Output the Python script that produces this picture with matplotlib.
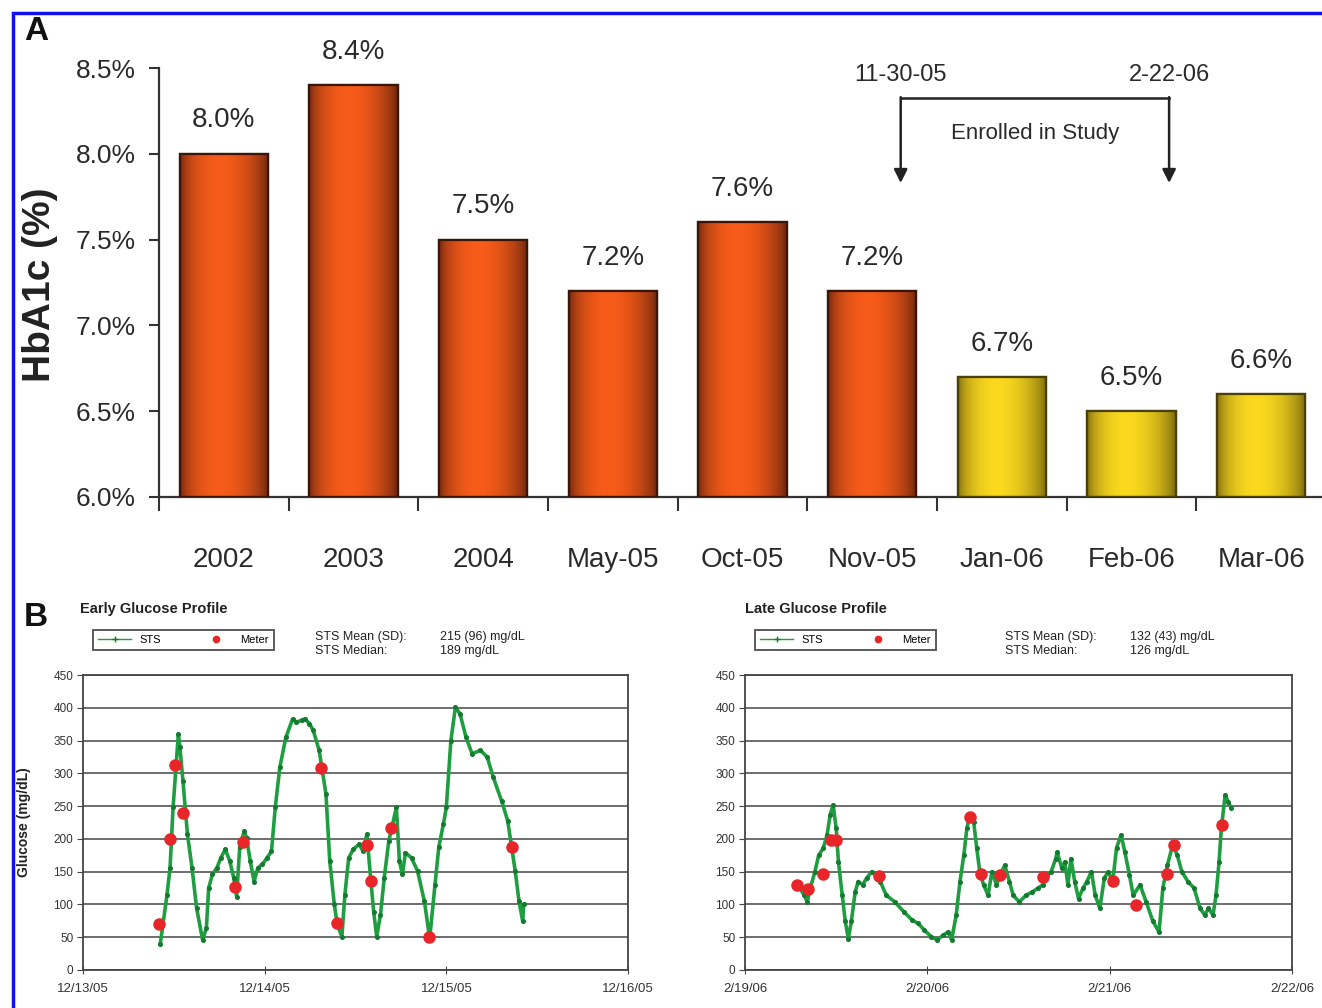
import numpy as np
import matplotlib
matplotlib.use("Agg")
import matplotlib.pyplot as plt
from matplotlib.patches import Rectangle
from matplotlib.lines import Line2D

plt.rcParams['font.family'] = ['Liberation Sans', 'DejaVu Sans']

# ---------------- Panel A data ----------------
periods = ['2002', '2003', '2004', 'May-05', 'Oct-05', 'Nov-05', 'Jan-06', 'Feb-06', 'Mar-06']
hba1c = [8.0, 8.4, 7.5, 7.2, 7.6, 7.2, 6.7, 6.5, 6.6]
in_study = [False, False, False, False, False, False, True, True, True]
a_yticks = [6.0, 6.5, 7.0, 7.5, 8.0, 8.5]
enroll_start_label = '11-30-05'
enroll_end_label = '2-22-06'

# ---------------- Panel B data ----------------
b_yticks = [0, 50, 100, 150, 200, 250, 300, 350, 400, 450]
early_dates = ['12/13/05', '12/14/05', '12/15/05', '12/16/05']
late_dates = ['2/19/06', '2/20/06', '2/21/06', '2/22/06']

early_sts_h = [10.2, 11.1, 11.5, 11.9, 12.6, 12.8, 13.2, 13.8, 14.4, 15.0, 15.8, 16.3,
               16.6, 17.1, 17.7, 18.2, 18.8, 19.4, 19.9, 20.3, 20.7, 21.3, 21.6, 22.1,
               22.6, 23.1, 23.7, 24.3, 24.9, 25.4, 26.0, 26.8, 27.7, 28.2, 28.9, 29.3,
               29.9, 30.4, 31.2, 32.1, 32.6, 33.2, 33.6, 34.2, 34.6, 35.1, 35.7, 36.5,
               37.0, 37.5, 38.0, 38.4, 38.8, 39.3, 39.8, 40.4, 41.4, 41.8, 42.2, 42.6,
               43.4, 44.2, 45.1, 45.8, 46.5, 47.0, 47.6, 48.0, 48.6, 49.2, 49.8, 50.6,
               51.4, 52.5, 53.4, 54.2, 55.3, 56.1, 57.1, 57.6, 58.1, 58.2]
early_sts_g = [39, 115, 156, 248, 360, 340, 289, 207, 156, 95, 46, 64,
               125, 146, 156, 171, 184, 166, 141, 112, 187, 212, 202, 166,
               135, 156, 161, 171, 181, 248, 309, 355, 383, 378, 381, 383,
               376, 366, 335, 268, 166, 100, 69, 51, 115, 171, 184, 192,
               181, 207, 140, 89, 51, 84, 141, 197, 248, 166, 146, 179,
               171, 151, 105, 48, 130, 187, 222, 248, 350, 401, 391, 355,
               330, 335, 325, 294, 258, 228, 151, 105, 74, 100]
early_meter_h = [10.1, 11.5, 12.1, 13.2, 20.1, 21.2, 31.5, 33.5, 37.5, 38.0, 40.7, 45.7, 56.7]
early_meter_g = [70, 200, 313, 240, 127, 195, 308, 72, 190, 136, 217, 50, 187]

late_sts_h = [6.7, 7.2, 7.8, 8.2, 8.6, 9.2, 9.7, 10.3, 10.8, 11.2, 11.6, 12.0, 12.3,
              12.8, 13.2, 13.6, 14.0, 14.5, 14.9, 15.5, 16.0, 16.7, 17.2, 17.8, 18.6,
              19.7, 20.9, 22.0, 22.8, 23.6, 24.5, 25.3, 26.1, 26.7, 27.2, 27.8, 28.3,
              28.8, 29.2, 29.6, 30.1, 30.5, 30.9, 31.4, 32.0, 32.5, 33.1, 33.6, 34.2,
              34.8, 35.3, 36.1, 37.0, 37.8, 38.6, 39.2, 39.8, 40.3, 40.9, 41.1, 41.7,
              42.1, 42.5, 42.9, 43.4, 43.9, 44.5, 45.0, 45.6, 46.1, 46.7, 47.3, 47.8,
              48.4, 48.9, 49.5, 50.0, 50.6, 51.1, 52.0, 52.8, 53.7, 54.5, 55.0, 55.6,
              56.3, 56.9, 57.5, 58.3, 59.1, 59.9, 60.5, 61.0, 61.6, 62.0, 62.4, 62.7,
              63.2, 63.6, 64.0]
late_sts_g = [130, 125, 114, 104, 125, 150, 175, 186, 206, 236, 252, 216, 165,
              114, 74, 48, 74, 119, 135, 130, 140, 150, 145, 135, 114,
              104, 89, 76, 71, 61, 51, 46, 53, 58, 46, 84, 135,
              175, 216, 236, 226, 186, 150, 130, 114, 150, 130, 145, 160,
              135, 114, 104, 114, 119, 125, 130, 145, 150, 170, 180, 155,
              165, 130, 170, 135, 109, 125, 135, 150, 114, 94, 140, 150,
              135, 186, 206, 180, 145, 114, 130, 104, 74, 58, 125, 160,
              191, 175, 150, 135, 125, 94, 84, 94, 84, 114, 165, 216,
              267, 257, 247]
late_meter_h = [6.9, 8.3, 10.3, 11.3, 12.0, 17.6, 29.6, 31.1, 33.6, 39.2, 48.5, 51.5, 55.6, 56.5, 62.8]
late_meter_g = [130, 124, 147, 198, 198, 143, 234, 147, 145, 142, 136, 99, 146, 191, 221]

early_stats = ['215 (96) mg/dL', '189 mg/dL']
late_stats = ['132 (43) mg/dL', '126 mg/dL']

# ---------------- Figure ----------------
W, H = 1322, 1008
fig = plt.figure(figsize=(W / 100, H / 100), dpi=100)
fig.patch.set_facecolor('white')

def fx(px):
    return px / W

def fy(py):
    return 1 - py / H

TXT = '#2a2a2a'

# blue frame
fig.patches.append(Rectangle((fx(13), fy(1010)), 1.2, fy(13) - fy(1010),
                             transform=fig.transFigure, fill=False,
                             edgecolor='#1010ee', lw=2.5, zorder=10))

# ---------------- Panel A ----------------
axA = fig.add_axes([fx(159), fy(497), fx(1326) - fx(159), fy(68) - fy(497)])
x = np.arange(len(periods))
red_dark, red_bright = np.array([0.36, 0.12, 0.05]), np.array([0.97, 0.36, 0.10])
yel_dark, yel_bright = np.array([0.42, 0.36, 0.05]), np.array([0.98, 0.85, 0.12])
base_colors = ['#e8501a' if not s else '#e8c81a' for s in in_study]
edge_colors = ['#3a1608' if not s else '#4a4008' for s in in_study]
bars = axA.bar(x, hba1c, width=0.68, color=base_colors, edgecolor=edge_colors,
               linewidth=1.6, zorder=2)
t = np.linspace(0, 1, 200)
prof = np.clip(np.sin(np.pi * t ** 0.85), 0, 1) ** 0.6
for bar, s in zip(bars, in_study):
    dark, bright = (yel_dark, yel_bright) if s else (red_dark, red_bright)
    img = dark[None, None, :] + (bright - dark)[None, None, :] * prof[None, :, None]
    x0 = bar.get_x()
    im = axA.imshow(img, extent=(x0, x0 + bar.get_width(), 6.0, bar.get_height()),
                    aspect='auto', zorder=2.5, interpolation='bilinear')
    im.set_clip_path(bar)
    axA.add_patch(Rectangle((x0, 6.0), bar.get_width(), bar.get_height() - 6.0,
                            fill=False, edgecolor=bar.get_edgecolor(), lw=1.6, zorder=3))
for xi, v in zip(x, hba1c):
    axA.annotate(f'{v:.1f}%', (xi, v), xytext=(0, 24), textcoords='offset points',
                 ha='center', va='center', fontsize=20, color=TXT)

axA.set_xlim(-0.5, len(periods) - 0.5)
axA.set_ylim(a_yticks[0], a_yticks[-1])
axA.set_yticks(a_yticks)
axA.set_yticklabels([f'{v:.1f}%' for v in a_yticks], fontsize=19, color=TXT)
axA.set_xticks(x)
axA.set_xticklabels(periods, fontsize=20, color=TXT)
axA.set_xticks(np.arange(-0.5, len(periods), 1.0), minor=True)
axA.tick_params(axis='x', which='major', length=0, pad=36)
axA.tick_params(axis='x', which='minor', length=10, width=1.5, direction='out', color='#333333')
axA.tick_params(axis='y', length=7, width=1.5, direction='out', pad=10, color='#333333')
for sp in ['top', 'right']:
    axA.spines[sp].set_visible(False)
for sp in ['left', 'bottom']:
    axA.spines[sp].set_linewidth(1.6)
    axA.spines[sp].set_color('#333333')
axA.patch.set_alpha(0)

# enrollment bracket
xs, xe = 5.22, 7.29
ybr, ytip, ylab = 8.325, 7.83, 8.46
axA.plot([xs, xe], [ybr, ybr], color='#222222', lw=1.8, clip_on=False, zorder=4)
for xx in (xs, xe):
    axA.annotate('', xy=(xx, ytip), xytext=(xx, ybr + 0.005),
                 arrowprops=dict(arrowstyle='-|>', color='#222222', lw=1.8,
                                 mutation_scale=20, shrinkA=0, shrinkB=0),
                 annotation_clip=False)
axA.text(xs, ylab, enroll_start_label, ha='center', va='center', fontsize=17, color=TXT)
axA.text(xe, ylab, enroll_end_label, ha='center', va='center', fontsize=17, color=TXT)
axA.text((xs + xe) / 2, 8.12, 'Enrolled in Study', ha='center', va='center',
         fontsize=16, color=TXT)

fig.text(fx(40), fy(285), 'HbA1c (%)', rotation=90, ha='center', va='center',
         fontsize=28, fontweight='bold', color='#222222')
fig.text(fx(24), fy(32), 'A', ha='left', va='center', fontsize=24,
         fontweight='bold', color='#111111')
fig.text(fx(24), fy(617), 'B', ha='left', va='center', fontsize=24,
         fontweight='bold', color='#111111')

# ---------------- Panel B ----------------
def glucose_panel(rect, sts_h, sts_g, m_h, m_g, dates, title, stats, title_px, stats_px):
    ax = fig.add_axes(rect)
    ax.set_xlim(0, 72)
    ax.set_ylim(0, 450)
    ax.set_yticks(b_yticks)
    ax.set_yticklabels([str(v) for v in b_yticks], fontsize=8.5, color='#333333')
    ax.set_xticks([0, 24, 48, 72])
    ax.set_xticklabels(dates, fontsize=9.5, color='#333333')
    ax.tick_params(axis='y', length=4, direction='out', color='#444444', pad=3)
    ax.tick_params(axis='x', length=6, direction='inout', color='#444444', pad=6)
    ax.grid(axis='y', color='#555555', lw=1.2)
    ax.set_axisbelow(True)
    for sp in ax.spines.values():
        sp.set_color('#444444')
        sp.set_linewidth(1.3)
    ax.plot(sts_h, sts_g, color='#1e9e40', lw=2.6, marker='o', ms=2.6,
            mfc='#157a30', mec='#157a30', zorder=3)
    ax.plot(m_h, m_g, ls='none', marker='o', ms=8, color='#e8262a', zorder=4)
    handles = [Line2D([], [], color='#1e9e40', lw=1, marker='+', ms=5, mec='#157a30'),
               Line2D([], [], ls='none', marker='o', ms=4.5, color='#e8262a')]
    leg = ax.legend(handles, ['STS', 'Meter'], ncol=2, loc='lower left',
                    bbox_to_anchor=(0.008, 1.065), fontsize=8, frameon=True,
                    fancybox=False, edgecolor='#222222', borderpad=0.45,
                    handlelength=3.0, columnspacing=3.5, handletextpad=0.7)
    leg.get_frame().set_linewidth(1.3)
    fig.text(fx(title_px[0]), fy(title_px[1]), title, fontsize=10.5, fontweight='bold',
             ha='left', va='center', color='#222222')
    sx, sy = stats_px
    kw = dict(fontsize=9, ha='left', va='center', color='#222222')
    fig.text(fx(sx), fy(sy), 'STS Mean (SD):', **kw)
    fig.text(fx(sx + 125), fy(sy), stats[0], **kw)
    fig.text(fx(sx), fy(sy + 14), 'STS Median:', **kw)
    fig.text(fx(sx + 125), fy(sy + 14), stats[1], **kw)
    return ax

glucose_panel([fx(83), fy(970), fx(628) - fx(83), fy(675) - fy(970)],
              early_sts_h, early_sts_g, early_meter_h, early_meter_g, early_dates,
              'Early Glucose Profile', early_stats, (80, 609), (315, 637))
glucose_panel([fx(745), fy(970), fx(1292) - fx(745), fy(675) - fy(970)],
              late_sts_h, late_sts_g, late_meter_h, late_meter_g, late_dates,
              'Late Glucose Profile', late_stats, (745, 609), (1005, 637))
fig.text(fx(24), fy(822), 'Glucose (mg/dL)', rotation=90, ha='center', va='center',
         fontsize=10, fontweight='bold', color='#222222')

fig.savefig('out.png', dpi=100, facecolor='white')
